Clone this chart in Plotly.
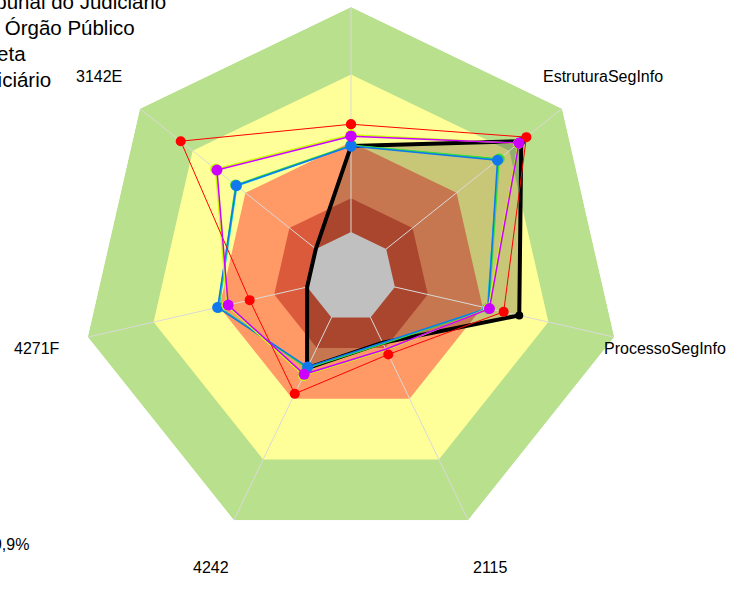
import math
import plotly.graph_objects as go

# ---------------- data ----------------
categories = ["GestaoSegInfo", "EstruturaSegInfo", "ProcessoSegInfo", "2115", "4242", "4271F", "3142E"]
axis_labels = ["", "EstruturaSegInfo", "ProcessoSegInfo", "2115", "4242", "4271F", "3142E"]

# background bands (outer limit of each band, scale -0.2 .. 1.0)
band_limits = [1.0, 0.70, 0.40, 0.15]
band_colors = ["#B9E08C", "#FFFF99", "#FF9966", "#DB5A3C"]
center_limit = 0.0
center_color = "#C0C0C0"

orgao = [0.382, 0.768, 0.567, 0.124, 0.25, 0.0, 0.0]            # black
tribunal = [0.479, 0.797, 0.496, 0.182, 0.376, 0.262, 0.768]     # red
orgao_publico = [0.426, 0.755, 0.431, 0.156, 0.28, 0.36, 0.562]  # magenta
orgao_publico_b = [0.432, 0.752, 0.426, 0.16, 0.286, 0.366, 0.57]  # yellow
judiciario = [0.382, 0.633, 0.425, 0.124, 0.244, 0.408, 0.452]   # blue
judiciario_b = [0.386, 0.642, 0.428, 0.13, 0.25, 0.404, 0.456]   # green
judiciario_c = [0.384, 0.638, 0.422, 0.127, 0.247, 0.402, 0.449] # cyan

legend_texts = ["Média Tribunal do Judiciário", "Este Órgão Público", "Meta", "Média Judiciário"]
footer_text = "39,9%"

R_MIN, R_MAX = -0.2, 1.0

FONT = "Liberation Sans, Arial, sans-serif"
W, H = 732, 603


def closed(vals):
    return list(vals) + [vals[0]]


theta_c = closed(categories)

fig = go.Figure()

# bands
for lim, col in zip(band_limits, band_colors):
    fig.add_trace(go.Scatterpolar(
        r=[lim] * len(theta_c), theta=theta_c, mode="lines", fill="toself",
        fillcolor=col, line=dict(width=0, color=col), hoverinfo="skip", showlegend=False))

# translucent fill of main series
fig.add_trace(go.Scatterpolar(
    r=closed(orgao), theta=theta_c, mode="lines", fill="toself",
    fillcolor="rgba(0,0,0,0.22)", line=dict(width=0, color="rgba(0,0,0,0)"),
    hoverinfo="skip", showlegend=False))

# spokes
for c in categories:
    fig.add_trace(go.Scatterpolar(
        r=[R_MIN, R_MAX], theta=[c, c], mode="lines",
        line=dict(color="#D9D9D9", width=1), hoverinfo="skip", showlegend=False))

# gray centre
fig.add_trace(go.Scatterpolar(
    r=[center_limit] * len(theta_c), theta=theta_c, mode="lines", fill="toself",
    fillcolor=center_color, line=dict(width=0, color=center_color),
    hoverinfo="skip", showlegend=False))

series = [
    ("Este Órgão", orgao, "#000000", 4, 8),
    ("Média Judiciário C", judiciario_c, "#00CCEE", 1.5, 10),
    ("Média Judiciário B", judiciario_b, "#33DD33", 1.5, 11),
    ("Média Judiciário", judiciario, "#1177EE", 1.5, 11),
    ("Órgão Público B", orgao_publico_b, "#CCFF00", 1.5, 11),
    ("Meta", tribunal, "#FF0000", 1, 10),
    ("Este Órgão Público", orgao_publico, "#CC00FF", 1.5, 11),
]
for name, vals, col, lw, ms in series:
    fig.add_trace(go.Scatterpolar(
        r=closed(vals), theta=theta_c, mode="lines+markers", name=name,
        line=dict(color=col, width=lw), marker=dict(color=col, size=ms),
        showlegend=False, cliponaxis=False))

# polar geometry (pixels)
cx, cy, rad = 351, 277, 270
label_dist = 322

annotations = []
# axis labels, centred on each spoke's extension
n = len(categories)
for k, lab in enumerate(axis_labels):
    if not lab:
        continue
    ang = math.radians(90 - k * 360 / n)
    px = cx + label_dist * math.cos(ang)
    py = cy - label_dist * math.sin(ang)
    annotations.append(dict(
        text=lab, xref="paper", yref="paper", x=px / W, y=1 - py / H,
        xanchor="center", yanchor="middle", showarrow=False,
        font=dict(family=FONT, size=16, color="#000000")))

# legend text (partly outside the page on the left, as in the source)
legend_right = [168, 137, 28, 53]
legend_base = [9, 35, 61, 86.5]
LEG_SIZE = 20.5
for t, xr, yb in zip(legend_texts, legend_right, legend_base):
    annotations.append(dict(
        text=t, xref="paper", yref="paper", x=xr / W, y=1 - (yb - 0.35 * LEG_SIZE) / H,
        xanchor="right", yanchor="middle", showarrow=False,
        font=dict(family=FONT, size=LEG_SIZE, color="#000000")))
annotations.append(dict(
    text=footer_text, xref="paper", yref="paper", x=31 / W, y=1 - (550 - 5.5) / H,
    xanchor="right", yanchor="middle", showarrow=False,
    font=dict(family=FONT, size=16, color="#000000")))

fig.update_layout(
    width=W, height=H,
    margin=dict(l=0, r=0, t=0, b=0),
    paper_bgcolor="white", plot_bgcolor="white",
    showlegend=False,
    annotations=annotations,
    polar=dict(
        domain=dict(x=[(cx - rad) / W, (cx + rad) / W],
                    y=[(H - cy - rad) / H, (H - cy + rad) / H]),
        bgcolor="rgba(0,0,0,0)",
        gridshape="linear",
        radialaxis=dict(range=[R_MIN, R_MAX], visible=False, showgrid=False),
        angularaxis=dict(type="category", categoryorder="array", categoryarray=categories,
                         direction="clockwise", rotation=90, showgrid=False,
                         showline=False, showticklabels=False, ticks=""),
    ),
)

fig.write_html("out.html", config={"displayModeBar": False},
               post_script="document.body.style.margin='0';")
